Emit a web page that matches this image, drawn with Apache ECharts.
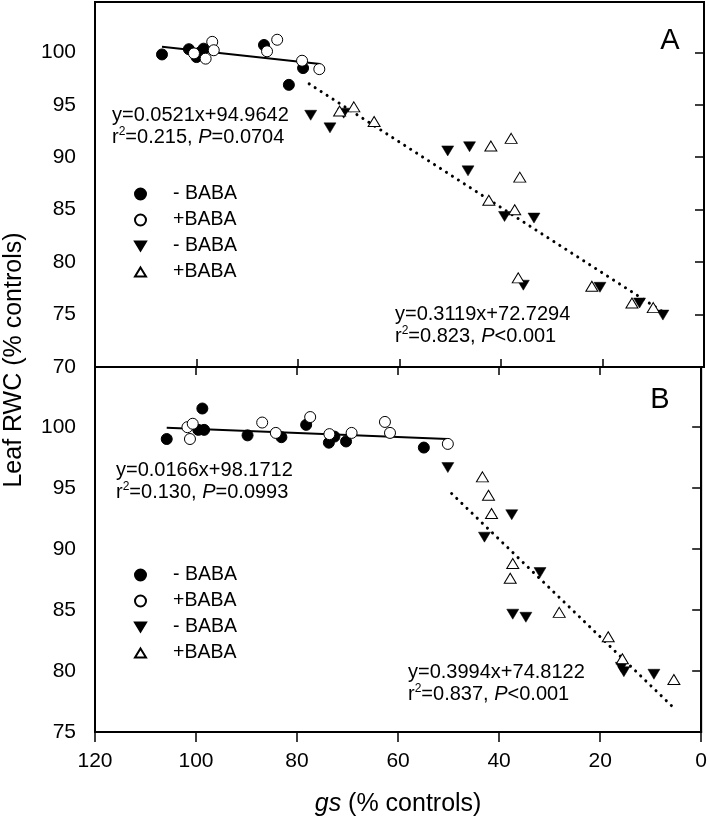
<!DOCTYPE html>
<html>
<head>
<meta charset="utf-8">
<script src="https://cdn.jsdelivr.net/npm/echarts@6/dist/echarts.min.js"></script>
<style>
html,body{margin:0;padding:0;background:#fff;}
#chart{width:710px;height:822px;}
</style>
</head>
<body>
<div id="chart"></div>
<script>
// ---- data ----
const xTicks = [0, 20, 40, 60, 80, 100, 120];
const yTicksA = [70, 75, 80, 85, 90, 95, 100];
const yTicksB = [75, 80, 85, 90, 95, 100];

// Panel A
const circFillA = [[106.8,99.8],[101.5,100.3],[100.0,99.55],[99.3,100.0],[98.6,100.35],[86.7,100.7],[81.8,96.9],[79.0,98.5]];
const circOpenA = [[100.5,99.9],[98.2,99.4],[96.9,101.0],[96.6,100.2],[86.1,100.1],[84.1,101.2],[79.2,99.2],[75.8,98.4]];
const triDownA = [[77.5,94.0],[73.7,92.8],[71.0,94.2],[50.5,90.6],[46.2,91.0],[46.5,88.7],[39.3,84.35],[33.5,84.2],[35.6,77.8],[20.5,77.6],[12.7,76.1],[8.1,74.95]];
const triUpA = [[71.8,94.4],[69.0,94.8],[65.0,93.4],[42.0,91.07],[38.0,91.8],[36.3,88.1],[42.4,85.9],[37.3,85.0],[36.6,78.5],[22.1,77.7],[14.2,76.1],[10.0,75.66]];
const fitA1 = [[106.8,100.53],[75.6,98.90]];
const fitA2 = [[77.8,97.0],[8.3,75.32]];

// Panel B
const circFillB = [[105.8,99.0],[98.75,101.5],[99.55,99.75],[98.4,99.75],[89.8,99.3],[83.1,99.15],[78.2,100.16],[73.7,98.7],[72.6,99.2],[70.3,98.8],[54.9,98.3]];
const circOpenB = [[101.7,99.97],[100.65,100.25],[101.2,99.0],[86.9,100.35],[84.2,99.5],[77.4,100.8],[73.6,99.4],[69.2,99.5],[62.6,100.4],[61.6,99.5],[50.15,98.6]];
const triDownB = [[50.15,96.66],[42.9,90.96],[37.5,92.8],[31.9,88.06],[37.3,84.65],[34.7,84.4],[15.8,80.3],[15.3,79.94],[9.35,79.73]];
const triUpB = [[43.3,95.9],[42.1,94.4],[41.5,92.9],[37.3,88.8],[37.8,87.6],[28.1,84.8],[18.4,82.8],[15.6,81.0],[5.4,79.3]];
const fitB1 = [[105.8,99.93],[50.2,99.0]];
const fitB2 = [[49.4,94.54],[5.4,76.97]];

const legendLabels = ['- BABA', '+BABA', '- BABA', '+BABA'];
const eqA1 = ['y=0.0521x+94.9642', '0.215', '=0.0704'];
const eqA2 = ['y=0.3119x+72.7294', '0.823', '<0.001'];
const eqB1 = ['y=0.0166x+98.1712', '0.130', '=0.0993'];
const eqB2 = ['y=0.3994x+74.8122', '0.837', '<0.001'];

// ---- styling ----
const FONT = '"Liberation Sans", Arial, sans-serif';
const DOWN = 'path://M0,0L12,0L6,10Z';
const UP = 'path://M6,0L12,10L0,10Z';

const chart = echarts.init(document.getElementById('chart'), null, {renderer: 'canvas'});

function scat(name, data, xi, yi, kind) {
  const s = {name, type: 'scatter', data, xAxisIndex: xi, yAxisIndex: yi, z: 3, animation: false};
  if (kind === 'cf') { s.symbol = 'circle'; s.symbolSize = 11; s.itemStyle = {color: '#000', borderColor: '#000', borderWidth: 1, opacity: 1}; }
  if (kind === 'co') { s.symbol = 'circle'; s.symbolSize = 11; s.itemStyle = {color: '#fff', borderColor: '#000', borderWidth: 1, opacity: 1}; }
  if (kind === 'td') { s.symbol = DOWN; s.symbolSize = [12, 10]; s.itemStyle = {color: '#000', borderColor: '#000', borderWidth: 0.5, opacity: 1}; }
  if (kind === 'tu') { s.symbol = UP; s.symbolSize = [12, 10]; s.itemStyle = {color: '#fff', borderColor: '#000', borderWidth: 1, opacity: 1}; }
  return s;
}
function fit(name, data, xi, yi, dotted) {
  return {name, type: 'line', data, xAxisIndex: xi, yAxisIndex: yi, symbol: 'none', z: 2, animation: false,
    lineStyle: dotted ? {color: '#000', width: 3, type: [0.1, 7], cap: 'round'} : {color: '#000', width: 2}};
}

const legNamesA = ['cfA', 'coA', 'tdA', 'tuA'];
const legNamesB = ['cfB', 'coB', 'tdB', 'tuB'];
const icons = ['circle', 'circle', DOWN, UP];
function legend(names, top) {
  return {
    orient: 'vertical', left: 134, top, padding: 0, itemWidth: 11, itemHeight: 11, itemGap: 6,
    selectedMode: false,
    data: names.map((n, i) => ({name: n, icon: icons[i]})),
    formatter: (n) => '{g| }' + legendLabels[names.indexOf(n)],
    textStyle: {fontFamily: FONT, fontSize: 19.5, color: '#000', lineHeight: 20, rich: {g: {width: 22, fontSize: 19.5, lineHeight: 20}}}
  };
}

function eqText(x, y, lines) {
  const base = {fontFamily: FONT, fontSize: 20, fill: '#000'};
  return [
    {type: 'text', x, y, z: 10, style: Object.assign({text: lines[0], align: 'left', verticalAlign: 'middle'}, base)},
    {type: 'text', x, y: y + 22, z: 10, style: Object.assign({
      text: '{n|r}{s|2}{n|=' + lines[1] + ', }{i|P}{n|' + lines[2] + '}',
      align: 'left', verticalAlign: 'middle',
      rich: {
        n: {fontFamily: FONT, fontSize: 20, lineHeight: 22, fill: '#000'},
        i: {fontFamily: FONT, fontSize: 20, lineHeight: 22, fontStyle: 'italic', fill: '#000'},
        s: {fontFamily: FONT, fontSize: 12, lineHeight: 22, verticalAlign: 'top', fill: '#000'}
      }}, base)}
  ];
}

const axisLine = {show: true, lineStyle: {color: '#000', width: 2}};
const tickStyle = {color: '#000', width: 1.5};

const option = {
  backgroundColor: '#fff',
  animation: false,
  grid: [
    {left: 95, top: 2, width: 609, height: 365, show: true, borderColor: '#000', borderWidth: 2, backgroundColor: 'transparent'},
    {left: 95, top: 367, width: 609, height: 365, show: true, borderColor: '#000', borderWidth: 2, backgroundColor: 'transparent'}
  ],
  xAxis: [
    {gridIndex: 0, type: 'value', min: 0, max: 120, interval: 20, inverse: true, position: 'bottom',
      axisLine, axisTick: {show: true, inside: true, length: 8, lineStyle: tickStyle, customValues: xTicks},
      axisLabel: {show: false}, splitLine: {show: false}},
    {gridIndex: 1, type: 'value', min: 0, max: 120, interval: 20, inverse: true, position: 'top',
      axisLine, axisTick: {show: true, inside: true, length: 8, lineStyle: tickStyle, customValues: xTicks},
      axisLabel: {show: false}, splitLine: {show: false}},
    {gridIndex: 1, type: 'value', min: 0, max: 120, interval: 20, inverse: true, position: 'bottom',
      axisLine, axisTick: {show: true, inside: false, length: 10, lineStyle: tickStyle, customValues: xTicks},
      axisLabel: {show: true, customValues: xTicks, fontFamily: FONT, fontSize: 21, color: '#000', margin: 19},
      splitLine: {show: false},
      name: '{i|gs} (% controls)', nameLocation: 'middle', nameGap: 60,
      nameTextStyle: {fontFamily: FONT, fontSize: 25, color: '#000',
        rich: {i: {fontFamily: FONT, fontSize: 25, fontStyle: 'italic', color: '#000'}}}}
  ],
  yAxis: [
    {gridIndex: 0, type: 'value', min: 70, max: 104.8, interval: 5,
      axisLine, axisTick: {show: true, inside: false, length: 9, lineStyle: tickStyle, customValues: yTicksA},
      axisLabel: {show: true, customValues: yTicksA, fontFamily: FONT, fontSize: 21, color: '#000', margin: 19},
      splitLine: {show: false}},
    {gridIndex: 1, type: 'value', min: 75, max: 104.9, interval: 5,
      axisLine, axisTick: {show: true, inside: false, length: 9, lineStyle: tickStyle, customValues: yTicksB},
      axisLabel: {show: true, customValues: yTicksB, fontFamily: FONT, fontSize: 21, color: '#000', margin: 19},
      splitLine: {show: false}}
  ],
  legend: [legend(legNamesA, 184), legend(legNamesB, 565)],
  series: [
    fit('fitA1', fitA1, 0, 0, false),
    fit('fitA2', fitA2, 0, 0, true),
    scat('cfA', circFillA, 0, 0, 'cf'),
    scat('coA', circOpenA, 0, 0, 'co'),
    scat('tdA', triDownA, 0, 0, 'td'),
    scat('tuA', triUpA, 0, 0, 'tu'),
    fit('fitB1', fitB1, 2, 1, false),
    fit('fitB2', fitB2, 2, 1, true),
    scat('cfB', circFillB, 2, 1, 'cf'),
    scat('coB', circOpenB, 2, 1, 'co'),
    scat('tdB', triDownB, 2, 1, 'td'),
    scat('tuB', triUpB, 2, 1, 'tu')
  ],
  graphic: [
    {type: 'text', x: 14, y: 360, rotation: Math.PI / 2, z: 10,
      style: {text: 'Leaf RWC (% controls)', fontFamily: FONT, fontSize: 25, fill: '#000', align: 'center', verticalAlign: 'middle'}},
    {type: 'text', x: 670, y: 41, z: 10, style: {text: 'A', fontFamily: FONT, fontSize: 29, fill: '#000', align: 'center', verticalAlign: 'middle'}},
    {type: 'text', x: 660, y: 400, z: 10, style: {text: 'B', fontFamily: FONT, fontSize: 29, fill: '#000', align: 'center', verticalAlign: 'middle'}}
  ].concat(eqText(112, 115, eqA1), eqText(395, 314, eqA2), eqText(116, 470, eqB1), eqText(408, 672, eqB2))
};
chart.setOption(option);
</script>
</body>
</html>
